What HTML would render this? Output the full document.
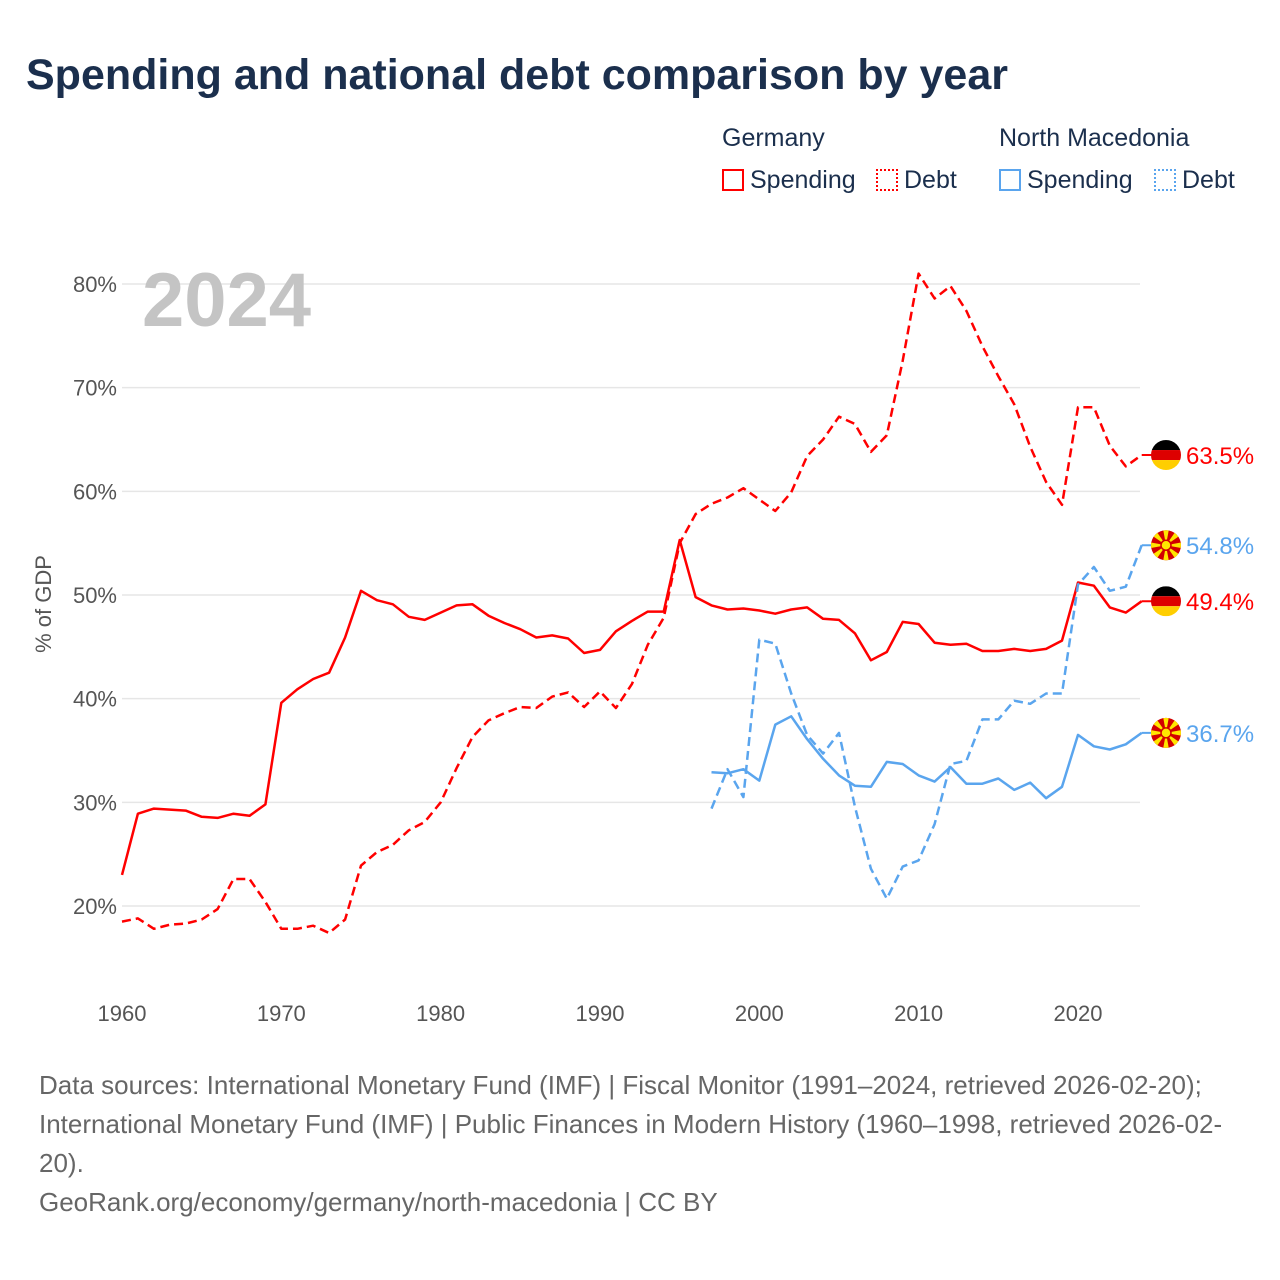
<!DOCTYPE html>
<html><head><meta charset="utf-8"><style>
body{margin:0;background:#fff;font-family:"Liberation Sans",sans-serif}
#wrap{position:relative;width:1280px;height:1280px;overflow:hidden}
.t{position:absolute;white-space:nowrap}
</style></head><body>
<div id="wrap">
<div class="t" style="left:26px;top:51px;font-size:43px;font-weight:bold;color:#1b2f4d">Spending and national debt comparison by year</div>
<div class="t" style="left:722px;top:124px;font-size:25px;color:#1b2f4d">Germany</div>
<div class="t" style="left:999px;top:124px;font-size:25px;color:#1b2f4d">North Macedonia</div>
<div class="t" style="left:722px;top:166px;font-size:25px;color:#1b2f4d"><span style="display:inline-block;width:22px;height:22px;border:2px solid #f00;box-sizing:border-box;vertical-align:-3px;margin-right:6px"></span>Spending</div>
<div class="t" style="left:876px;top:166px;font-size:25px;color:#1b2f4d"><span style="display:inline-block;width:22px;height:22px;border:2px dotted #f00;box-sizing:border-box;vertical-align:-3px;margin-right:6px"></span>Debt</div>
<div class="t" style="left:999px;top:166px;font-size:25px;color:#1b2f4d"><span style="display:inline-block;width:22px;height:22px;border:2px solid #5aa5ee;box-sizing:border-box;vertical-align:-3px;margin-right:6px"></span>Spending</div>
<div class="t" style="left:1154px;top:166px;font-size:25px;color:#1b2f4d"><span style="display:inline-block;width:22px;height:22px;border:2px dotted #5aa5ee;box-sizing:border-box;vertical-align:-3px;margin-right:6px"></span>Debt</div>
<svg id="chart" width="1280" height="1280" style="position:absolute;left:0;top:0"></svg>
<div class="t" style="left:39px;top:1066px;font-size:26px;line-height:39px;color:#666">Data sources: International Monetary Fund (IMF) | Fiscal Monitor (1991–2024, retrieved 2026-02-20);<br>International Monetary Fund (IMF) | Public Finances in Modern History (1960–1998, retrieved 2026-02-<br>20).<br>GeoRank.org/economy/germany/north-macedonia | CC BY</div>
</div>
<script>
const yTicks=[20,30,40,50,60,70,80];
const xTicks=[1960,1970,1980,1990,2000,2010,2020];
const deYears=[];for(let y=1960;y<=2024;y++)deYears.push(y);
const deSpending=[23.0,28.9,29.4,29.3,29.2,28.6,28.5,28.9,28.7,29.8,39.6,40.9,41.9,42.5,45.9,50.4,49.5,49.1,47.9,47.6,48.3,49.0,49.1,48.0,47.3,46.7,45.9,46.1,45.8,44.4,44.7,46.5,47.5,48.4,48.4,55.3,49.8,49.0,48.6,48.7,48.5,48.2,48.6,48.8,47.7,47.6,46.3,43.7,44.5,47.4,47.2,45.4,45.2,45.3,44.6,44.6,44.8,44.6,44.8,45.6,51.2,50.9,48.8,48.3,49.4];
const deDebt=[18.5,18.8,17.8,18.2,18.3,18.7,19.7,22.6,22.6,20.4,17.8,17.8,18.1,17.4,18.7,23.9,25.2,25.9,27.3,28.1,30.0,33.3,36.3,37.9,38.6,39.2,39.1,40.2,40.6,39.2,40.7,39.1,41.4,45.2,47.8,55.0,57.8,58.8,59.4,60.3,59.2,58.1,59.9,63.4,65.0,67.2,66.5,63.8,65.4,72.6,81.0,78.6,79.8,77.4,74.0,71.1,68.4,64.3,60.9,58.7,68.1,68.1,64.4,62.4,63.5];
const mkYears=[];for(let y=1997;y<=2024;y++)mkYears.push(y);
const mkSpending=[32.9,32.8,33.2,32.1,37.5,38.3,36.1,34.2,32.6,31.6,31.5,33.9,33.7,32.6,32.0,33.4,31.8,31.8,32.3,31.2,31.9,30.4,31.5,36.5,35.4,35.1,35.6,36.7];
const mkDebt=[29.4,33.2,30.5,45.7,45.3,40.5,36.5,34.7,36.7,29.6,23.6,20.7,23.8,24.4,27.9,33.7,34.0,38.0,38.0,39.8,39.5,40.5,40.5,51.0,52.7,50.4,50.8,54.8];

const NS='http://www.w3.org/2000/svg';
const svg=document.getElementById('chart');
const X=y=>122+(y-1960)*15.933;
const Y=v=>906-(v-20)*10.367;
function el(t,a,p){const e=document.createElementNS(NS,t);for(const k in a)e.setAttribute(k,a[k]);(p||svg).appendChild(e);return e;}
yTicks.forEach(v=>{
  const g=el('line',{x1:122,x2:1140,y1:Y(v),y2:Y(v),stroke:'#e6e6e6','stroke-width':1.5});
  
  
  const t=el('text',{x:117,y:Y(v)+8,'text-anchor':'end','font-size':22,fill:'#555','font-family':'Liberation Sans, sans-serif'});
  t.textContent=v+'%';
  
  
});
xTicks.forEach(y=>{
  const t=el('text',{x:X(y),y:1021,'text-anchor':'middle','font-size':22,fill:'#555','font-family':'Liberation Sans, sans-serif'});
  t.textContent=y;
  
  
});
const yt=el('text',{transform:'translate(51,604) rotate(-90)','text-anchor':'middle','font-size':22,fill:'#555','font-family':'Liberation Sans, sans-serif'});
yt.textContent='% of GDP';


const wm=el('text',{x:142,y:326,'font-size':76,'font-weight':'bold',fill:'#c4c4c4','font-family':'Liberation Sans, sans-serif'});
wm.textContent='2024';


function line(xs,vs,color,dash,name){
  const d=xs.map((x,i)=>(i?'L':'M')+X(x).toFixed(1)+','+Y(vs[i]).toFixed(1)).join('');
  const p=el('path',{d:d,fill:'none',stroke:color,'stroke-width':2.5,'stroke-dasharray':dash||'none','stroke-linejoin':'round'});
  
  
}
line(deYears,deDebt,'#f00','9,5','germany-debt-line');
line(deYears,deSpending,'#f00','','germany-spending-line');
line(mkYears,mkDebt,'#5aa5ee','9,5','nm-debt-line');
line(mkYears,mkSpending,'#5aa5ee','','nm-spending-line');
function endLabel(v,color,de,name){
  const cx=1166,cy=Y(v);
  el('line',{x1:X(2024),x2:cx,y1:cy,y2:cy,stroke:color,'stroke-width':2});
  const g=el('g',{});
  
  
  const cp='c'+name;
  const c=el('clipPath',{id:cp},g);el('circle',{cx:cx,cy:cy,r:15},c);
  if(de){
    el('rect',{x:cx-15,y:cy-15,width:30,height:10,fill:'#000','clip-path':'url(#'+cp+')'},g);
    el('rect',{x:cx-15,y:cy-5,width:30,height:10,fill:'#dd0000','clip-path':'url(#'+cp+')'},g);
    el('rect',{x:cx-15,y:cy+5,width:30,height:10,fill:'#ffce00','clip-path':'url(#'+cp+')'},g);
  }else{
    el('circle',{cx:cx,cy:cy,r:15,fill:'#d20000'},g);
    for(let i=0;i<8;i++){const a=i*Math.PI/4,b=0.18;
      el('polygon',{points:`${cx},${cy} ${cx+17*Math.cos(a-b)},${cy+17*Math.sin(a-b)} ${cx+17*Math.cos(a+b)},${cy+17*Math.sin(a+b)}`,fill:'#ffe600','clip-path':'url(#'+cp+')'},g);}
    el('circle',{cx:cx,cy:cy,r:5,fill:'#ffe600',stroke:'#d20000','stroke-width':1.5},g);
  }
  const t=el('text',{x:1186,y:cy+9,'font-size':24,fill:color,'font-family':'Liberation Sans, sans-serif'});
  t.textContent=v.toFixed(1)+'%';
  
  
}
endLabel(deDebt[deDebt.length-1],'#f00',true,'germany-debt');
endLabel(mkDebt[mkDebt.length-1],'#5aa5ee',false,'nm-debt');
endLabel(deSpending[deSpending.length-1],'#f00',true,'germany-spending');
endLabel(mkSpending[mkSpending.length-1],'#5aa5ee',false,'nm-spending');
</script>
</body></html>
